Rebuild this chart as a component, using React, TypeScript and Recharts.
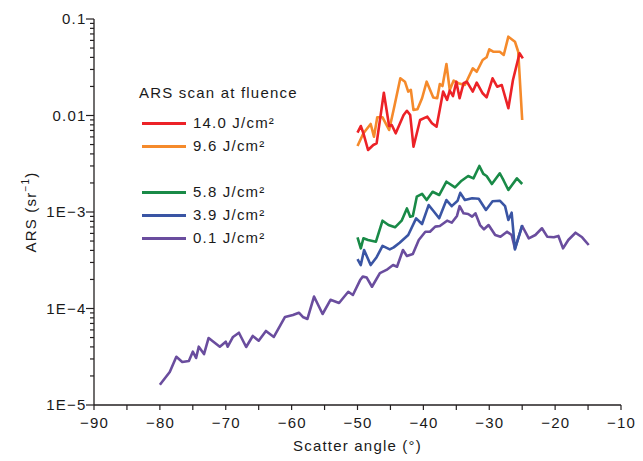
import { LineChart, Line, XAxis, YAxis, Label } from "recharts";

const AXIS = "#231f20";
const FONT = '"Liberation Sans", Arial, Helvetica, sans-serif';

// x axis: scatter angle (deg)
const xAllTicks = [-90, -85, -80, -75, -70, -65, -60, -55, -50, -45, -40, -35, -30, -25, -20, -15, -10];
const xMajorTicks = [-90, -80, -70, -60, -50, -40, -30, -20, -10];
const xTickLabels = ["−90", "−80", "−70", "−60", "−50", "−40", "−30", "−20", "−10"];

// y axis: ARS, log scale
const yMajorTicks = [1e-5, 1e-4, 1e-3, 1e-2, 1e-1];
const yTickLabels = ["1E−5", "1E−4", "1E−3", "0.01", "0.1"];
const yMinorTicks = [
  2e-5, 3e-5, 4e-5, 5e-5, 6e-5, 7e-5, 8e-5, 9e-5,
  2e-4, 3e-4, 4e-4, 5e-4, 6e-4, 7e-4, 8e-4, 9e-4,
  2e-3, 3e-3, 4e-3, 5e-3, 6e-3, 7e-3, 8e-3, 9e-3,
  2e-2, 3e-2, 4e-2, 5e-2, 6e-2, 7e-2, 8e-2, 9e-2,
];

// 14.0 J/cm2
const redAngle = [-50.0, -49.5, -49.1, -48.4, -47.6, -47.1, -46.0, -45.2, -44.8, -44.2, -43.0, -42.5, -42.0, -41.5, -40.5, -39.4, -38.7, -38.0, -37.0, -36.4, -36.0, -35.5, -35.0, -34.5, -33.9, -33.4, -32.5, -31.9, -31.0, -30.4, -29.5, -28.8, -28.1, -27.1, -26.4, -25.4, -24.9];
const redArs = [6.64e-3, 7.78e-3, 6.54e-3, 4.39e-3, 4.95e-3, 5.15e-3, 1.72e-2, 7.78e-3, 7.97e-3, 6.54e-3, 1.01e-2, 1.12e-2, 1.01e-2, 4.75e-3, 8.98e-3, 9.72e-3, 8.3e-3, 7.66e-3, 1.77e-2, 1.45e-2, 1.81e-2, 1.59e-2, 2.24e-2, 1.51e-2, 2.16e-2, 2.24e-2, 1.77e-2, 2.19e-2, 1.7e-2, 1.54e-2, 2.43e-2, 1.99e-2, 2.07e-2, 1.19e-2, 2.33e-2, 4.41e-2, 3.91e-2];

// 9.6 J/cm2
const orangeAngle = [-50.0, -49.1, -48.0, -47.5, -47.0, -46.2, -45.2, -44.5, -43.5, -42.8, -42.3, -41.9, -41.5, -40.9, -40.2, -39.5, -38.5, -37.9, -37.5, -37.1, -36.5, -36.0, -35.4, -34.7, -33.7, -32.5, -31.9, -31.0, -30.4, -30.0, -29.4, -28.4, -27.8, -27.1, -26.1, -25.6, -25.0];
const orangeArs = [4.83e-3, 6.54e-3, 8.17e-3, 6.03e-3, 9.58e-3, 9.58e-3, 7.08e-3, 1.16e-2, 2.43e-2, 2.24e-2, 1.77e-2, 1.84e-2, 1.14e-2, 1.16e-2, 1.51e-2, 2.24e-2, 1.54e-2, 1.51e-2, 2.12e-2, 2.02e-2, 3.42e-2, 1.84e-2, 2.3e-2, 2.16e-2, 2.07e-2, 3.08e-2, 2.84e-2, 3.76e-2, 4.01e-2, 4.85e-2, 4.58e-2, 4.58e-2, 4.24e-2, 6.56e-2, 5.82e-2, 4.58e-2, 8.98e-3];

// 5.8 J/cm2
const greenAngle = [-50.0, -49.5, -49.1, -48.4, -47.2, -46.2, -45.3, -44.3, -43.3, -42.5, -42.0, -41.6, -41.0, -40.2, -39.5, -38.6, -37.6, -36.5, -35.2, -34.2, -33.2, -32.4, -31.5, -30.9, -30.4, -29.6, -28.4, -27.8, -27.1, -25.8, -25.0];
const greenArs = [5.47e-4, 4.2e-4, 5.34e-4, 5.13e-4, 4.92e-4, 8.13e-4, 7.33e-4, 6.94e-4, 8.13e-4, 1.09e-3, 8.94e-4, 9.1e-4, 1.44e-3, 1.54e-3, 1.33e-3, 1.62e-3, 1.5e-3, 2.06e-3, 1.8e-3, 2.11e-3, 2.36e-3, 2.23e-3, 3.0e-3, 2.48e-3, 2.36e-3, 1.95e-3, 2.52e-3, 2.11e-3, 1.69e-3, 2.23e-3, 1.95e-3];

// 3.9 J/cm2
const blueAngle = [-50.0, -49.5, -49.0, -48.0, -47.1, -46.2, -45.1, -44.5, -43.6, -42.3, -41.1, -40.2, -39.2, -38.5, -37.6, -36.5, -35.7, -34.8, -34.4, -33.7, -32.6, -31.6, -30.5, -29.5, -28.4, -27.6, -27.1, -26.6, -26.1, -25.0];
const blueArs = [3.24e-4, 2.82e-4, 4.04e-4, 2.82e-4, 3.4e-4, 4.45e-4, 4.1e-4, 4.3e-4, 4.81e-4, 5.78e-4, 8.6e-4, 7.51e-4, 1.18e-3, 1.03e-3, 8.6e-4, 1.33e-3, 1.15e-3, 1.31e-3, 1.58e-3, 1.33e-3, 1.39e-3, 1.37e-3, 1.05e-3, 1.29e-3, 1.31e-3, 1.15e-3, 8.26e-4, 9.84e-4, 4.1e-4, 7.33e-4];

// 0.1 J/cm2
const purpleAngle = [-80.0, -78.5, -77.5, -76.6, -75.6, -75.0, -74.5, -74.1, -73.3, -72.6, -70.9, -70.0, -69.7, -68.9, -68.0, -66.9, -65.9, -65.0, -63.9, -62.7, -61.0, -59.8, -58.9, -58.3, -57.6, -56.6, -55.3, -54.1, -52.8, -51.4, -50.7, -49.6, -49.2, -48.6, -47.8, -46.6, -45.6, -44.6, -44.0, -43.1, -42.5, -41.6, -40.7, -39.7, -39.0, -38.2, -37.5, -36.4, -35.7, -34.9, -34.5, -33.9, -33.2, -32.6, -32.1, -31.4, -30.8, -30.1, -29.1, -28.3, -27.3, -26.6, -26.1, -25.0, -24.0, -23.0, -22.0, -21.2, -20.2, -19.5, -18.8, -18.0, -16.9, -15.9, -14.9];
const purpleArs = [1.62e-5, 2.2e-5, 3.16e-5, 2.79e-5, 2.86e-5, 3.57e-5, 3.07e-5, 4.02e-5, 3.37e-5, 4.95e-5, 4.02e-5, 4.53e-5, 4.02e-5, 5.07e-5, 5.61e-5, 3.99e-5, 5.19e-5, 4.64e-5, 5.85e-5, 5.07e-5, 8.17e-5, 8.57e-5, 9.04e-5, 8.17e-5, 7.79e-5, 1.33e-4, 8.77e-5, 1.23e-4, 1.14e-4, 1.49e-4, 1.38e-4, 1.97e-4, 2.14e-4, 2.09e-4, 1.68e-4, 2.33e-4, 2.51e-4, 2.82e-4, 2.71e-4, 4.04e-4, 3.5e-4, 3.67e-4, 5.13e-4, 6.25e-4, 6.25e-4, 7.05e-4, 7.16e-4, 8.13e-4, 7.75e-4, 9.1e-4, 1.15e-3, 9.7e-4, 9.53e-4, 8.94e-4, 9.7e-4, 7.33e-4, 6.62e-4, 7.33e-4, 5.78e-4, 5.55e-4, 6.25e-4, 5.78e-4, 4.2e-4, 7.16e-4, 5.34e-4, 5.78e-4, 6.78e-4, 5.55e-4, 5.47e-4, 5.65e-4, 4.2e-4, 5.13e-4, 6.1e-4, 5.47e-4, 4.55e-4];

const toPoints = (angles: number[], values: number[]) =>
  angles.map((angle, i) => ({ angle, ars: values[i] }));

// drawing order: bottom first, red on top
const SERIES = [
  { key: "p01", label: "0.1 J/cm²", color: "#6a4d9e", data: toPoints(purpleAngle, purpleArs), legendY: 238 },
  { key: "p39", label: "3.9 J/cm²", color: "#3a55a4", data: toPoints(blueAngle, blueArs), legendY: 215 },
  { key: "p58", label: "5.8 J/cm²", color: "#198a47", data: toPoints(greenAngle, greenArs), legendY: 192 },
  { key: "p96", label: "9.6 J/cm²", color: "#f58a2b", data: toPoints(orangeAngle, orangeArs), legendY: 146 },
  { key: "p140", label: "14.0 J/cm²", color: "#ec2227", data: toPoints(redAngle, redArs), legendY: 123 },
];

const TEXT = "#1a1a1a";
const textStyle = { fontFamily: FONT, fontSize: 15, fill: TEXT, letterSpacing: 1.2 };

const BottomTick = ({ x, y, payload }: any) => {
  const i = xMajorTicks.indexOf(payload.value);
  return (
    <g>
      <line x1={x} x2={x} y1={y} y2={y + 5} stroke={AXIS} strokeWidth={1.2} />
      {i >= 0 && (
        <text x={x + 0.6} y={y + 23} textAnchor="middle" style={textStyle}>
          {xTickLabels[i]}
        </text>
      )}
    </g>
  );
};

const TopTick = ({ x, y }: any) => (
  <line x1={x} x2={x} y1={y} y2={y + 4} stroke={AXIS} strokeWidth={1.2} />
);

const LeftTick = ({ x, y, payload }: any) => {
  const i = yMajorTicks.indexOf(payload.value);
  const len = i >= 0 ? 8 : 4;
  return (
    <g>
      <line x1={x - len} x2={x} y1={y} y2={y} stroke={AXIS} strokeWidth={1.2} />
      {i >= 0 && (
        <text x={x - 7.5} y={y + 5.3} textAnchor="end" style={textStyle}>
          {yTickLabels[i]}
        </text>
      )}
    </g>
  );
};

const RightTick = ({ x, y, payload }: any) => {
  const len = yMajorTicks.includes(payload.value) ? 8 : 4.5;
  return <line x1={x - len} x2={x} y1={y} y2={y} stroke={AXIS} strokeWidth={1.2} />;
};

const YTitle = ({ viewBox }: any) => {
  const cx = viewBox.x + 30;
  const cy = viewBox.y + viewBox.height / 2;
  return (
    <text
      x={cx}
      y={cy}
      transform={`rotate(-90 ${cx} ${cy})`}
      textAnchor="middle"
      dominantBaseline="central"
      style={textStyle}
    >
      ARS (sr
      <tspan dy={-5} fontSize={10}>−1</tspan>
      <tspan dy={5}>)</tspan>
    </text>
  );
};

const XTitle = ({ viewBox }: any) => (
  <text x={viewBox.x + viewBox.width / 2} y={viewBox.y + 46} textAnchor="middle" style={textStyle}>
    Scatter angle (°)
  </text>
);

export default function App() {
  const allY = [...yMajorTicks, ...yMinorTicks];
  return (
    <div style={{ position: "absolute", left: 0, top: 0, width: 643, height: 461, background: "#fff", fontFamily: FONT }}>
      <LineChart width={643} height={461} margin={{ top: 19, right: 22, bottom: 0, left: 0 }}>
        <XAxis
          dataKey="angle"
          type="number"
          domain={[-90, -10]}
          ticks={xAllTicks}
          interval={0}
          allowDataOverflow
          height={56}
          tickSize={0}
          tickMargin={0}
          tickLine={false}
          axisLine={{ stroke: AXIS, strokeWidth: 1.3 }}
          tick={<BottomTick />}
        >
          <Label content={<XTitle />} />
        </XAxis>
        <XAxis
          xAxisId="top"
          orientation="top"
          dataKey="angle"
          type="number"
          domain={[-90, -10]}
          ticks={xAllTicks}
          interval={0}
          allowDataOverflow
          height={0}
          tickSize={0}
          tickMargin={0}
          tickLine={false}
          axisLine={{ stroke: AXIS, strokeWidth: 1.3 }}
          tick={<TopTick />}
        />
        <YAxis
          type="number"
          scale="log"
          domain={[1e-5, 0.1]}
          ticks={allY}
          interval={0}
          allowDataOverflow
          width={94}
          tickSize={0}
          tickMargin={0}
          tickLine={false}
          axisLine={{ stroke: AXIS, strokeWidth: 1.3 }}
          tick={<LeftTick />}
        >
          <Label content={<YTitle />} />
        </YAxis>
        <YAxis
          yAxisId="right"
          orientation="right"
          type="number"
          scale="log"
          domain={[1e-5, 0.1]}
          ticks={allY}
          interval={0}
          allowDataOverflow
          width={0}
          tickSize={0}
          tickMargin={0}
          tickLine={false}
          axisLine={{ stroke: AXIS, strokeWidth: 1.3 }}
          tick={<RightTick />}
        />
        {SERIES.map((s) => (
          <Line
            key={s.key}
            data={s.data}
            dataKey="ars"
            type="linear"
            stroke={s.color}
            strokeWidth={2.6}
            strokeLinejoin="round"
            dot={false}
            activeDot={false}
            isAnimationActive={false}
          />
        ))}
      </LineChart>

      {/* legend */}
      <div style={{ position: "absolute", left: 139, top: 84, fontSize: 15, letterSpacing: 1.2, color: TEXT, lineHeight: "18px" }}>
        ARS scan at fluence
      </div>
      {SERIES.map((s) => (
        <div
          key={s.key}
          style={{ position: "absolute", left: 142, top: s.legendY - 9, height: 18, display: "flex", alignItems: "center" }}
        >
          <div style={{ width: 44, height: 3, background: s.color }} />
          <span style={{ marginLeft: 7, fontSize: 15, letterSpacing: 1.2, color: TEXT, lineHeight: "18px" }}>
            {s.label}
          </span>
        </div>
      ))}
    </div>
  );
}
